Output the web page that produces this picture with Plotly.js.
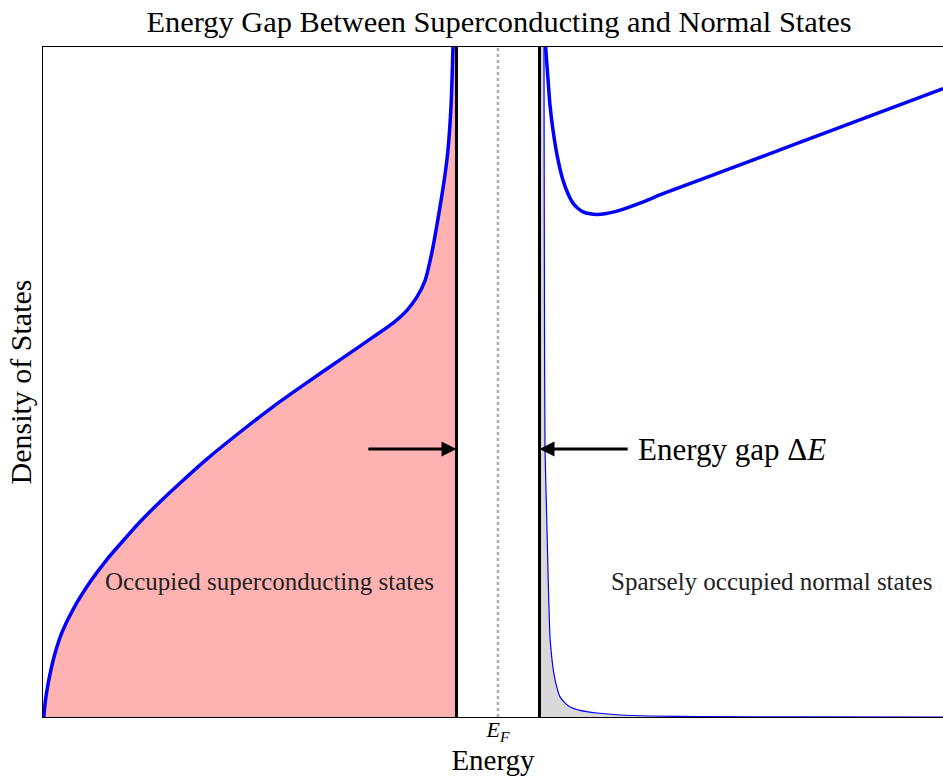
<!DOCTYPE html>
<html>
<head>
<meta charset="utf-8">
<script src="https://cdn.plot.ly/plotly-3.0.1.min.js"></script>
<style>html,body{margin:0;padding:0;background:#fff;}#chart{width:943px;height:776px;}</style>
</head>
<body>
<div id="chart"></div>
<script>
// Superconducting (occupied) density of states, below the gap (energy in units of the half-gap)
const scEnergy = [-10.94, -10.916, -10.875, -10.795, -10.675, -10.506, -10.241, -9.831, -9.422, -8.988, -8.627, -8.145, -7.663, -7.012, -6.217, -5.422, -4.602, -3.807, -3.012, -2.530, -2.193, -1.952, -1.759, -1.590, -1.398, -1.277, -1.205, -1.133, -1.084, -1.036, -1.0];
const scDos    = [0, 0.17, 0.36, 0.63, 0.94, 1.26, 1.60, 2.01, 2.35, 2.66, 2.91, 3.21, 3.49, 3.85, 4.25, 4.63, 4.99, 5.33, 5.67, 5.88, 6.07, 6.27, 6.51, 6.94, 7.61, 8.09, 8.46, 9.10, 9.99, 11.34, 15.0];
// Normal-state density of states above the gap
const nEnergy = [1.08, 1.115, 1.149, 1.205, 1.253, 1.325, 1.422, 1.566, 1.687, 1.807, 1.928, 2.048, 2.217, 2.386, 2.578, 2.867, 3.422, 3.976, 4.867, 5.590, 7.205, 8.795, 10.723];
const nDos    = [13.0, 10.5, 10.0, 9.52, 9.13, 8.76, 8.39, 8.01, 7.81, 7.67, 7.59, 7.54, 7.51, 7.50, 7.51, 7.55, 7.67, 7.81, 8.017, 8.185, 8.56, 8.93, 9.38];
// Sparsely occupied normal states (thin curve)
const occEnergy = [1.00, 1.105, 1.108, 1.12, 1.133, 1.173, 1.212, 1.253, 1.289, 1.333, 1.398, 1.494, 1.614, 1.735, 1.976, 2.386, 2.940, 3.663, 4.867, 7.277, 10.72];
const occDos    = [14.0, 14.0, 10.0, 6.0, 3.99, 2.99, 2.0, 1.19, 0.93, 0.70, 0.49, 0.30, 0.21, 0.15, 0.10, 0.06, 0.03, 0.015, 0.006, 0.002, 0.0];
// Gap edges and Fermi level
const gapEdges = [-1, 1];
const fermiLevel = [0];
const yTop = 10;
const arrowLevel = 4.0;
const arrowTails = [-3.16, 3.16];
const xRange = [-10.96, 10.72];
const tickLabels = ["<i>E</i><sub><i>F</i></sub>"];

const serif = "Liberation Serif, Times New Roman, serif";

const traces = [
  { x: scEnergy, y: scDos, type: 'scatter', mode: 'lines', fill: 'tozeroy',
    fillcolor: 'rgba(255,0,0,0.3)', line: { color: 'rgba(0,0,0,0)', width: 0, shape: 'spline', smoothing: 0.7 }, hoverinfo: 'skip' },
  { x: occEnergy, y: occDos, type: 'scatter', mode: 'lines', fill: 'tozeroy',
    fillcolor: 'rgba(128,128,128,0.3)', line: { color: 'rgba(0,0,0,0)', width: 0, shape: 'spline', smoothing: 0.5 }, hoverinfo: 'skip' },
  { x: [fermiLevel[0], fermiLevel[0]], y: [0, yTop], type: 'scatter', mode: 'lines',
    line: { color: '#aaaaaa', width: 2.5, dash: '3px,3px' } },
  { x: [gapEdges[0], gapEdges[0]], y: [0, yTop], type: 'scatter', mode: 'lines',
    line: { color: '#000', width: 3 } },
  { x: [gapEdges[1], gapEdges[1]], y: [0, yTop], type: 'scatter', mode: 'lines',
    line: { color: '#000', width: 3 } },
  { x: scEnergy, y: scDos, type: 'scatter', mode: 'lines',
    line: { color: '#0000ff', width: 3.5, shape: 'spline', smoothing: 0.7 } },
  { x: nEnergy, y: nDos, type: 'scatter', mode: 'lines',
    line: { color: '#0000ff', width: 3.5, shape: 'spline', smoothing: 0.7 } },
  { x: occEnergy, y: occDos, type: 'scatter', mode: 'lines',
    line: { color: '#0000ff', width: 1.2, shape: 'spline', smoothing: 0.5 } }
];

const layout = {
  width: 943, height: 776,
  margin: { l: 43, r: 0, t: 47, b: 59 },
  paper_bgcolor: '#fff', plot_bgcolor: '#fff',
  showlegend: false,
  font: { family: serif, color: '#000' },
  title: { text: 'Energy Gap Between Superconducting and Normal States',
    font: { family: serif, size: 30.4, color: '#000' },
    x: 499 / 943, xanchor: 'center', xref: 'container', y: 1 - 21 / 776, yanchor: 'middle', yref: 'container' },
  xaxis: { range: xRange, showgrid: false, zeroline: false, showline: true, mirror: true,
    linecolor: '#000', linewidth: 1, ticks: '', tickvals: fermiLevel, ticktext: tickLabels,
    tickfont: { family: serif, size: 22 }, ticklabelstandoff: -7, fixedrange: true,
    title: { text: 'Energy', font: { family: serif, size: 29 }, standoff: 10 } },
  yaxis: { range: [0, yTop], showgrid: false, zeroline: false, showline: true, mirror: false,
    linecolor: '#000', linewidth: 1, ticks: '', showticklabels: false, fixedrange: true,
    title: { text: 'Density of States', font: { family: serif, size: 30 }, standoff: 1 } },
  annotations: [
    { x: gapEdges[0], y: arrowLevel, ax: arrowTails[0], ay: arrowLevel, xref: 'x', yref: 'y',
      axref: 'x', ayref: 'y', showarrow: true, arrowhead: 2, arrowsize: 1, arrowwidth: 3,
      arrowcolor: '#000', text: '' },
    { x: gapEdges[1], y: arrowLevel, ax: arrowTails[1], ay: arrowLevel, xref: 'x', yref: 'y',
      axref: 'x', ayref: 'y', showarrow: true, arrowhead: 2, arrowsize: 1, arrowwidth: 3,
      arrowcolor: '#000', text: '' },
    { x: 3.33, y: arrowLevel, xref: 'x', yref: 'y', xanchor: 'left', yanchor: 'middle',
      showarrow: false, text: 'Energy gap Δ<i>E</i>', font: { family: serif, size: 31, color: '#000' } },
    { x: -5.5, y: 2.02, xref: 'x', yref: 'y', xanchor: 'center', yanchor: 'middle',
      showarrow: false, text: 'Occupied superconducting states', font: { family: serif, size: 25, color: '#222' } },
    { x: 6.58, y: 2.02, xref: 'x', yref: 'y', xanchor: 'center', yanchor: 'middle',
      showarrow: false, text: 'Sparsely occupied normal states', font: { family: serif, size: 25, color: '#222' } }
  ]
};

Plotly.newPlot('chart', traces, layout, { displayModeBar: false, staticPlot: true });
</script>
</body>
</html>
